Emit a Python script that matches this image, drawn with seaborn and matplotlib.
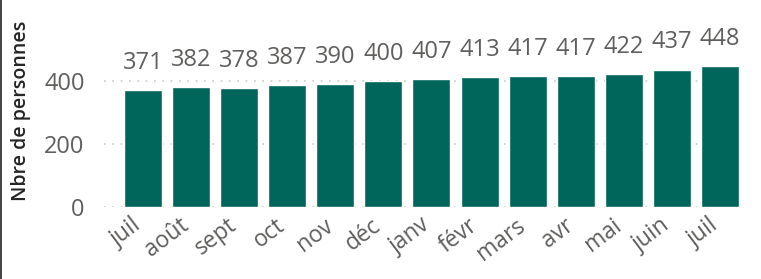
import matplotlib
matplotlib.use("Agg")
import matplotlib.pyplot as plt
import matplotlib.lines as mlines
import matplotlib.transforms as mtransforms
import pandas as pd
import seaborn as sns

# Données
mois = ["juil", "août", "sept", "oct", "nov", "déc", "janv", "févr",
        "mars", "avr", "mai", "juin", "juil "]
personnes = [371, 382, 378, 387, 390, 400, 407, 413, 417, 417, 422, 437, 448]
yticks = [0, 200, 400]

df = pd.DataFrame({"mois": mois, "personnes": personnes})

sns.set_theme(style="white")
plt.rcParams["font.family"] = ["Open Sans", "DejaVu Sans"]

fig = plt.figure(figsize=(7.61, 2.79), dpi=100)
ax = fig.add_axes([104 / 761, 1 - 207 / 279, (745 - 104) / 761, 151 / 279])

sns.barplot(data=df, x="mois", y="personnes", color="#00655B",
            saturation=1, width=0.79, ax=ax, zorder=3)

# étiquettes de valeurs au-dessus des barres
for p, v in zip(ax.patches, personnes):
    ax.annotate(f"{v}", (p.get_x() + p.get_width() / 2, p.get_height()),
                xytext=(0, 11), textcoords="offset points", ha="center",
                va="bottom", fontsize=17, color="#605E5C", clip_on=False)

ax.set_ylim(0, 480)
ax.set_xlim(-0.81, 12.52)
ax.set_yticks(yticks)
ax.set_yticklabels([str(t) for t in yticks], fontsize=17, color="#605E5C")
ax.set_xticks(range(len(mois)))
ax.set_xticklabels([m.strip() for m in mois], rotation=37, ha="right",
                   rotation_mode="anchor", fontsize=16.5, color="#605E5C")
ax.tick_params(axis="x", length=0, pad=4)
ax.tick_params(axis="y", length=0, pad=14)

# décalage des libellés de mois vers la gauche (après tick_params)
shift = mtransforms.ScaledTranslation(-12 / 100, -1 / 100, fig.dpi_scale_trans)
for lab in ax.get_xticklabels():
    lab.set_transform(lab.get_transform() + shift)

ax.yaxis.grid(True, linestyle=(0, (1, 4)), color="#C8C8C8", linewidth=1.2, zorder=0)
ax.xaxis.grid(False)
for s in ax.spines.values():
    s.set_visible(False)

ax.set_xlabel("")
ax.set_ylabel("Nbre de personnes", fontsize=14, color="#252423",
              fontweight="semibold")
ax.yaxis.set_label_coords(-(104 - 31) / 641, 0.64)

# fin trait sombre sur le bord gauche
fig.add_artist(mlines.Line2D([0.0007, 0.0007], [0, 1], color="#222222",
                             linewidth=1.2, transform=fig.transFigure))

fig.savefig("out.png", dpi=100)
